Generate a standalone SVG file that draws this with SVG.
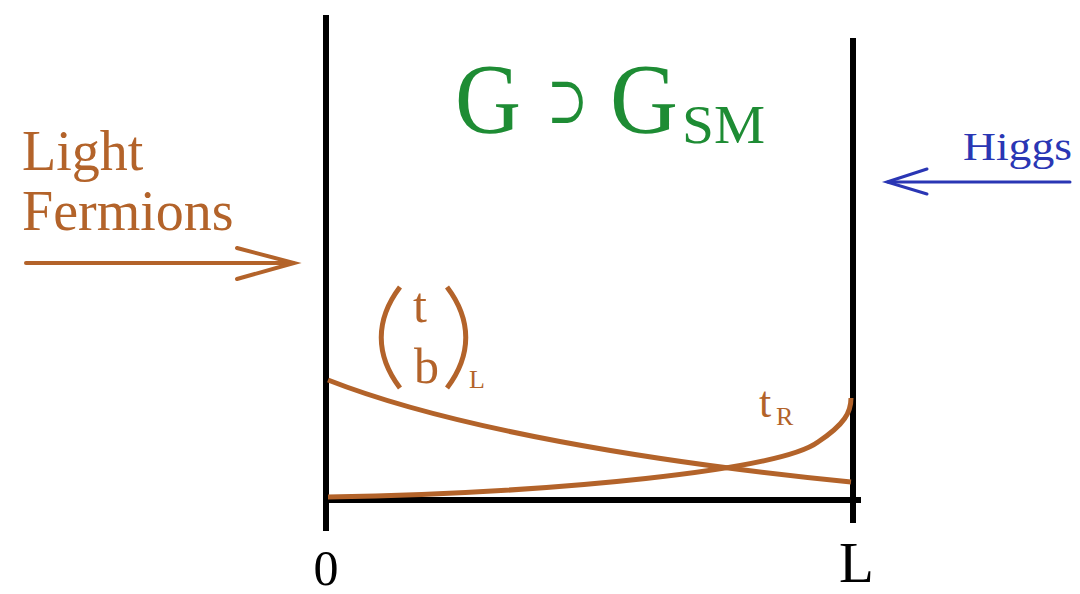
<svg xmlns="http://www.w3.org/2000/svg" width="1080" height="594" viewBox="0 0 1080 594">
<style>
.axis{stroke:#000;stroke-width:6;fill:none}
.curve{stroke:#b3632a;stroke-width:5;fill:none}
</style>
<rect width="1080" height="594" fill="#fff"/>
<g id="axes">
<line class="axis" x1="326" y1="15" x2="326" y2="531"/>
<line class="axis" x1="853" y1="38" x2="853" y2="523"/>
<line class="axis" x1="323" y1="500" x2="861" y2="500"/>
</g>
<g id="title">
<text x="455" y="132" font-family="'Liberation Serif', serif" font-size="100" fill="#1e8c34" textLength="66" lengthAdjust="spacingAndGlyphs">G</text>
<text x="547" y="123" font-family="'DejaVu Serif', serif" font-size="66" fill="#1e8c34" textLength="41" lengthAdjust="spacingAndGlyphs">⊃</text>
<text x="610" y="132" font-family="'Liberation Serif', serif" font-size="100" fill="#1e8c34" textLength="68" lengthAdjust="spacingAndGlyphs">G</text>
<text x="682" y="143" font-family="'Liberation Serif', serif" font-size="55" fill="#1e8c34" textLength="83" lengthAdjust="spacingAndGlyphs">SM</text>
</g>
<g id="light-fermions">
<text x="22" y="170" font-family="'Liberation Serif', serif" font-size="56" fill="#b3632a">Light</text>
<text x="22" y="230" font-family="'Liberation Serif', serif" font-size="56" fill="#b3632a">Fermions</text>
<g stroke="#b3632a" stroke-width="4" fill="none" stroke-linecap="round">
<line x1="26" y1="263" x2="293" y2="263"/>
<polyline points="237,248 294,263 237,279"/>
</g>
</g>
<g id="higgs">
<text x="963" y="160" font-family="'Liberation Serif', serif" font-size="40" textLength="109" lengthAdjust="spacingAndGlyphs" fill="#2a36b4">Higgs</text>
<g stroke="#2a36b4" stroke-width="3" fill="none" stroke-linecap="round">
<line x1="1070" y1="182" x2="888" y2="182"/>
<polyline points="927,169 887,182 927,194"/>
</g>
</g>
<g id="curves">
<path class="curve" d="M328,380 C450,428 650,462 851,482"/>
<path class="curve" d="M328,497 C560,493 780,470 818,442 C845,424 851,412 851,398"/>
</g>
<g id="tb-label">
<path class="curve" d="M400,287 C375,320 375,355 400,388"/>
<path class="curve" d="M447,287 C472,320 472,355 447,388"/>
<text x="413" y="322" font-family="'Liberation Serif', serif" font-size="50" fill="#b3632a">t</text>
<text x="414" y="383" font-family="'Liberation Serif', serif" font-size="50" fill="#b3632a">b</text>
<text x="469" y="388" font-family="'Liberation Serif', serif" font-size="26" fill="#b3632a">L</text>
</g>
<g id="tR-label">
<text x="759" y="417" font-family="'Liberation Serif', serif" font-size="44" fill="#b3632a">t</text>
<text x="776" y="425" font-family="'Liberation Serif', serif" font-size="26" fill="#b3632a">R</text>
</g>
<g id="ticks">
<text x="326" y="585" font-family="'Liberation Serif', serif" font-size="50" text-anchor="middle" fill="#000">0</text>
<text x="839" y="582" font-family="'Liberation Serif', serif" font-size="57" fill="#000">L</text>
</g>
</svg>
